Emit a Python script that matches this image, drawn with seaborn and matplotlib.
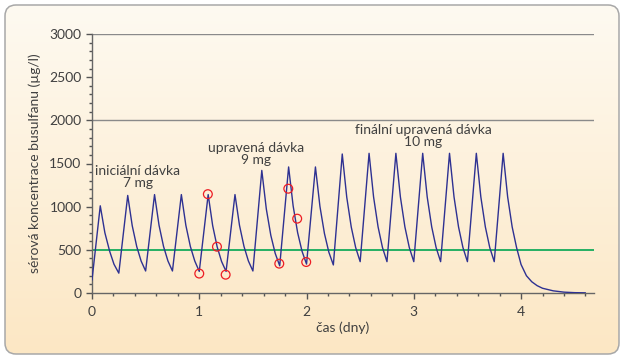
import numpy as np
import pandas as pd
import seaborn as sns
import matplotlib.pyplot as plt
from matplotlib.patches import FancyBboxPatch
from matplotlib.ticker import MultipleLocator

#### Data ####
# busulfan serum concentration (ug/l) vs time (days)
t_days = [0.0, 0.077, 0.12, 0.165, 0.205, 0.25,
          0.333, 0.375, 0.417, 0.458, 0.5,
          0.583, 0.625, 0.667, 0.708, 0.75,
          0.833, 0.875, 0.917, 0.958, 1.0,
          1.083, 1.125, 1.167, 1.208, 1.25,
          1.333, 1.375, 1.417, 1.458, 1.5,
          1.583, 1.625, 1.667, 1.708, 1.75,
          1.833, 1.875, 1.917, 1.958, 2.0,
          2.083, 2.125, 2.167, 2.208, 2.25,
          2.333, 2.375, 2.417, 2.458, 2.5,
          2.583, 2.625, 2.667, 2.708, 2.75,
          2.833, 2.875, 2.917, 2.958, 3.0,
          3.083, 3.125, 3.167, 3.208, 3.25,
          3.333, 3.375, 3.417, 3.458, 3.5,
          3.583, 3.625, 3.667, 3.708, 3.75,
          3.833, 3.875, 3.917, 3.958, 4.0,
          4.05, 4.1, 4.15, 4.2, 4.3, 4.4, 4.5, 4.6]
conc = [150, 1010, 698, 482, 333, 230,
        1130, 780, 538, 370, 255,
        1140, 784, 539, 371, 255,
        1140, 784, 539, 371, 250,
        1140, 780, 534, 365, 250,
        1140, 784, 539, 371, 255,
        1420, 974, 668, 459, 315,
        1460, 1010, 699, 484, 335,
        1460, 1003, 689, 473, 325,
        1610, 1109, 764, 527, 363,
        1618, 1113, 766, 527, 363,
        1618, 1113, 766, 527, 363,
        1618, 1113, 766, 527, 363,
        1618, 1113, 766, 527, 363,
        1618, 1113, 766, 527, 363,
        1618, 1113, 766, 527, 330,
        200, 130, 85, 55, 25, 10, 4, 2]

# measured samples (red circles)
sample_t = [1.0, 1.08, 1.165, 1.246, 1.746, 1.83, 1.913, 1.997]
sample_c = [225, 1145, 536, 212, 340, 1208, 861, 359]

target_level = 500
grid_levels = [2000, 3000]

labels = ['iniciální dávka\n7 mg', 'upravená dávka\n9 mg', 'finální upravená dávka\n10 mg']
label_x = [0.425, 1.533, 3.085]
label_y = [1338, 1610, 1813]

curve = pd.DataFrame({'t': t_days, 'c': conc})
samples = pd.DataFrame({'t': sample_t, 'c': sample_c})

#### Style ####
sns.set_style('ticks')
plt.rcParams['font.family'] = ['Lato', 'DejaVu Sans']
txt = '#404040'

fig = plt.figure(figsize=(6.26, 3.59), dpi=100)

# rounded cream background box with a soft vertical gradient
bg = fig.add_axes([0, 0, 1, 1], zorder=-5)
bg.set_xlim(0, 626)
bg.set_ylim(359, 0)
bg.axis('off')
grad = np.linspace(0, 1, 256)[:, None]
top_col = np.array([254, 250, 241]) / 255
bot_col = np.array([252, 231, 196]) / 255
img = top_col[None, None, :] * (1 - grad[:, :, None]) + bot_col[None, None, :] * grad[:, :, None]
im = bg.imshow(img, extent=(5, 619, 354, 5), aspect='auto')
box = FancyBboxPatch((5, 5), 614, 349, boxstyle='round,pad=0,rounding_size=11',
                     facecolor='none', edgecolor='#a8a8a8', linewidth=1.1)
bg.add_patch(box)
im.set_clip_path(box)

#### Main axes ####
ax = fig.add_axes([92 / 626, 1 - 293 / 359, (594 - 92) / 626, (293 - 34) / 359])
ax.patch.set_alpha(0)

for g in grid_levels:
    ax.axhline(g, color='#8a8a8a', linewidth=1.0, zorder=1)
ax.axhline(target_level, color='#00a651', linewidth=1.2, zorder=2)

sns.lineplot(data=curve, x='t', y='c', sort=False, estimator=None,
             color='#2e3192', linewidth=1.0, ax=ax, zorder=3)
sns.scatterplot(data=samples, x='t', y='c', marker='o', s=40,
                facecolor='none', edgecolor='#ed1c24', linewidth=0.9, ax=ax, zorder=4)

for lab, lx, ly in zip(labels, label_x, label_y):
    ax.text(lx, ly, lab, ha='center', va='center', fontsize=10, color=txt,
            linespacing=1.0, zorder=5)

ax.set_xlim(0, 4.68)
ax.set_ylim(0, 3000)
ax.xaxis.set_major_locator(MultipleLocator(1))
ax.xaxis.set_minor_locator(MultipleLocator(0.2))
ax.yaxis.set_major_locator(MultipleLocator(500))
ax.yaxis.set_minor_locator(MultipleLocator(100))
ax.tick_params(which='major', length=4, width=1, color='#555555', labelcolor=txt, labelsize=10)
ax.tick_params(which='minor', length=2.5, width=1, color='#555555')
ax.tick_params(axis='x', pad=5)

sns.despine(ax=ax)
for s in ['left', 'bottom']:
    ax.spines[s].set_color('#666666')
    ax.spines[s].set_linewidth(1.0)

ax.set_xlabel('čas (dny)', color=txt, fontsize=10, labelpad=3)
ax.set_ylabel('sérová koncentrace busulfanu (µg/l)', color=txt, fontsize=10, labelpad=6)

fig.savefig('out.png', dpi=100)
